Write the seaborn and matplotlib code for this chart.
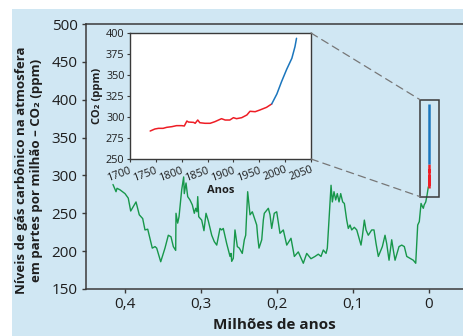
import matplotlib
matplotlib.use("Agg")
import matplotlib.pyplot as plt
from matplotlib.patches import Rectangle, ConnectionPatch
import numpy as np
import pandas as pd
import seaborn as sns

# Long record: CO2 (ppm) versus age (millions of years before present)
age_myr = [0.4158, 0.4118, 0.4105, 0.4066, 0.4000, 0.3957, 0.3925, 0.3855, 0.3812, 0.3767,
           0.3737, 0.3701, 0.3641, 0.3605, 0.3583, 0.3530, 0.3474, 0.3430, 0.3395, 0.3364,
           0.3333, 0.3329, 0.3307, 0.3289, 0.3254, 0.3228, 0.3220, 0.3197, 0.3175, 0.3145,
           0.3114, 0.3088, 0.3070, 0.3053, 0.3043, 0.3030, 0.2991, 0.2961, 0.2934, 0.2904,
           0.2859, 0.2825, 0.2793, 0.2750, 0.2728, 0.2707, 0.2662, 0.2618, 0.2605, 0.2596,
           0.2575, 0.2553, 0.2522, 0.2496, 0.2457, 0.2430, 0.2412, 0.2386, 0.2355, 0.2325,
           0.2289, 0.2267, 0.2254, 0.2237, 0.2201, 0.2180, 0.2167, 0.2136, 0.2114, 0.2092,
           0.2070, 0.2036, 0.2004, 0.1961, 0.1917, 0.1872, 0.1816, 0.1772, 0.1720, 0.1654,
           0.1609, 0.1553, 0.1500, 0.1457, 0.1421, 0.1391, 0.1355, 0.1338, 0.1289, 0.1272,
           0.1250, 0.1228, 0.1207, 0.1184, 0.1162, 0.1136, 0.1114, 0.1083, 0.1062, 0.1039,
           0.1017, 0.0983, 0.0951, 0.0921, 0.0895, 0.0878, 0.0851, 0.0829, 0.0799, 0.0754,
           0.0724, 0.0697, 0.0667, 0.0614, 0.0579, 0.0557, 0.0526, 0.0491, 0.0470, 0.0447,
           0.0395, 0.0359, 0.0325, 0.0293, 0.0250, 0.0207, 0.0175, 0.0149, 0.0128, 0.0105,
           0.0088, 0.0075, 0.0064, 0.0043, 0.0026, 0.0009]
co2_ppm = [288, 278.5, 283, 281, 276, 270, 253, 265, 248, 243,
           228, 229, 204, 206, 204, 186, 204, 221, 219, 206,
           201, 250, 237, 245.5, 281, 298, 276, 290, 272, 267.6,
           261, 250, 256.6, 252, 272, 245.5, 241, 227, 250, 240,
           221, 212.5, 208, 230, 228, 230, 210, 193, 197, 186.5,
           190.5, 228, 206, 204, 197, 215, 221, 278.5, 248, 252,
           241, 234.5, 219, 204, 215, 241, 250, 254, 256.6, 248,
           230, 250, 252, 223.5, 228, 208, 217, 193, 199, 184,
           197, 190, 193, 196, 193, 201.5, 197, 204, 287, 265,
           278.5, 267.6, 276, 265, 276, 265, 263, 241, 230, 234.5,
           228, 231.5, 228, 217, 208, 219, 241, 228, 221, 228,
           228, 210, 193, 206, 221, 210, 188, 215, 201.5, 188,
           206, 208, 206, 193, 190.5, 188, 184, 234.5, 239, 263,
           259, 256.6, 261, 265, 274, 285]

# Recent record (inset): ice-core era and instrumental era
ice_years = [1739, 1748, 1755, 1764, 1771, 1781, 1790, 1800, 1805, 1810, 1813, 1823, 1826,
             1831, 1835, 1845, 1855, 1864, 1877, 1884, 1893, 1900, 1906, 1916, 1926, 1932,
             1942, 1951, 1964, 1974]
ice_ppm = [283.3, 285.7, 286.5, 286.5, 287.7, 288.5, 289.7, 289.7, 289.3, 295.2, 294, 293.6,
           292.5, 296.4, 293.2, 292.5, 292.5, 294.4, 298, 296.4, 296.4, 299.2, 298, 299.2,
           302.4, 306.8, 306.3, 308.3, 311.5, 315.5]
air_years = [1974, 1984, 1993, 2003, 2013, 2019, 2022]
air_ppm = [315.5, 327.4, 342, 356.8, 369.9, 383.7, 393.7]

main_yticks = [150, 200, 250, 300, 350, 400, 450, 500]
main_xticks = [0.4, 0.3, 0.2, 0.1, 0.0]
main_xticklabels = ["0,4", "0,3", "0,2", "0,1", "0"]
inset_xticks = [1700, 1750, 1800, 1850, 1900, 1950, 2000, 2050]
inset_yticks = [250, 275, 300, 325, 350, 375, 400]

sns.set_style("ticks")
plt.rcParams["font.family"] = ["Open Sans", "DejaVu Sans"]

BG = "#d0e7f3"
SPINE = "#3a3a3a"
TEXT = "#1e1e1e"
GREEN = "#17974a"
RED = "#ee1d25"
BLUE = "#1b76bd"

W, H = 463, 336
fig = plt.figure(figsize=(W / 100, H / 100), dpi=100)
fig.patch.set_facecolor("white")
fig.patches.append(Rectangle((12 / W, 0), 1 - 12 / W, (H - 9) / H,
                             transform=fig.transFigure, facecolor=BG,
                             edgecolor="none", zorder=-10))

def box(l, t, r, b):
    return [l / W, (H - b) / H, (r - l) / W, (b - t) / H]

ax = fig.add_axes(box(86, 24, 463, 289))
ax.set_facecolor("none")

long_df = pd.DataFrame({"age": age_myr, "co2": co2_ppm})
sns.lineplot(data=long_df, x="age", y="co2", ax=ax, color=GREEN, lw=1.0,
             sort=False, estimator=None)

# recent range drawn as a vertical bar at age 0
ax.plot([0] * len(ice_ppm), ice_ppm, color=RED, lw=1.8, solid_capstyle="butt", zorder=3)
ax.plot([0] * len(air_ppm), air_ppm, color=BLUE, lw=1.8, solid_capstyle="butt", zorder=3)

ax.set_xlim(0.4513, -0.0447)
ax.set_ylim(150, 500)
ax.set_xticks(main_xticks)
ax.set_xticklabels(main_xticklabels)
ax.set_yticks(main_yticks)
ax.spines["right"].set_visible(False)
for s in ["left", "bottom", "top"]:
    ax.spines[s].set_color(SPINE)
    ax.spines[s].set_linewidth(1.1)
ax.tick_params(axis="both", direction="out", length=3, width=1, color=SPINE,
               labelsize=11, labelcolor=TEXT, pad=3)
ax.set_xlabel("Milhões de anos", fontsize=11, fontweight="bold", color=TEXT, labelpad=4)
ax.set_ylabel("")

fig.text(29 / W, (H - 170) / H,
         "Níveis de gás carbônico na atmosfera\nem partes por milhão – CO₂ (ppm)",
         rotation=90, ha="center", va="center", fontsize=9.5, fontweight="bold",
         color=TEXT, linespacing=1.15, multialignment="center")

# zoom box around the present
zbox = Rectangle((0.0118, 272), -0.025, 128, fill=False, edgecolor=SPINE, lw=1.1, zorder=4)
ax.add_patch(zbox)

axin = fig.add_axes(box(130, 33, 311, 159))
axin.set_facecolor("white")
ice_df = pd.DataFrame({"year": ice_years, "co2": ice_ppm})
air_df = pd.DataFrame({"year": air_years, "co2": air_ppm})
sns.lineplot(data=ice_df, x="year", y="co2", ax=axin, color=RED, lw=1.1,
             sort=False, estimator=None)
sns.lineplot(data=air_df, x="year", y="co2", ax=axin, color=BLUE, lw=1.1,
             sort=False, estimator=None)
axin.set_xlim(1700, 2050)
axin.set_ylim(250, 400)
axin.set_xticks(inset_xticks)
axin.set_yticks(inset_yticks)
for s in axin.spines.values():
    s.set_color(SPINE)
    s.set_linewidth(1.0)
axin.tick_params(axis="both", direction="out", length=2.5, width=0.8, color=SPINE,
                 labelsize=7.8, labelcolor=TEXT, pad=1.5)
for lab in axin.get_xticklabels():
    lab.set_rotation(20)
    lab.set_ha("right")
    lab.set_va("top")
    lab.set_rotation_mode("anchor")
axin.set_xlabel("Anos", fontsize=8, fontweight="bold", color=TEXT, labelpad=1)
axin.set_ylabel("CO₂ (ppm)", fontsize=8, fontweight="bold", color=TEXT, labelpad=2)

for ya, yb in [(1, 400), (0, 272)]:
    con = ConnectionPatch(xyA=(1, ya), coordsA=axin.transAxes,
                          xyB=(0.0118, yb), coordsB=ax.transData,
                          color="#777777", lw=0.9, linestyle=(0, (6, 4)), zorder=1)
    fig.add_artist(con)

fig.savefig("out.png", dpi=100, facecolor="white")
